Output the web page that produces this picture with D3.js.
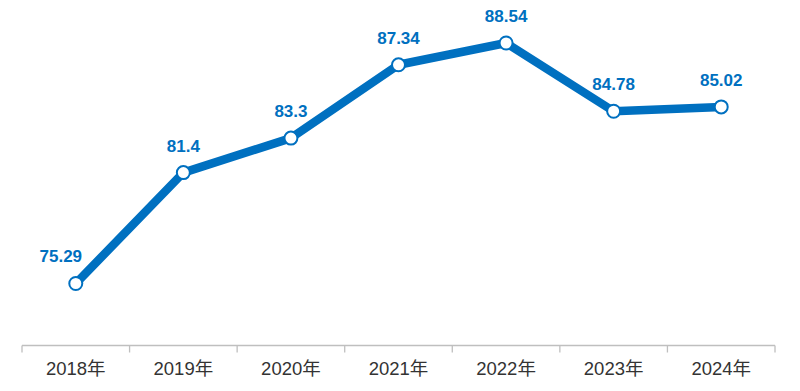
<!DOCTYPE html>
<html><head><meta charset="utf-8">
<script src="https://cdn.jsdelivr.net/npm/d3@7"></script>
<style>body{margin:0;background:#fff}svg{display:block}</style>
</head><body>
<svg id="c" width="800" height="391"></svg>
<script>
const categories = ["2018年","2019年","2020年","2021年","2022年","2023年","2024年"];
const values = [75.29, 81.4, 83.3, 87.34, 88.54, 84.78, 85.02];
const valueLabels = ["75.29","81.4","83.3","87.34","88.54","84.78","85.02"];

const svg = d3.select("#c");
const font = "'Liberation Sans', Arial, 'Noto Sans CJK SC', sans-serif";
const blue = "#0070C0";
const x = d3.scaleBand().domain(categories).range([22, 775]).paddingInner(0).paddingOuter(0);
const y = d3.scaleLinear().domain([72, 90]).range([343.2, 16.5]);

const axisY = 345.5;
const ax = svg.append("g").attr("transform", `translate(0,${axisY})`);
ax.append("line").attr("x1", 22).attr("x2", 775).attr("stroke", "#bfbfbf").attr("stroke-width", 1.3);
const bounds = categories.map(c => x(c)).concat([x(categories[categories.length-1]) + x.bandwidth()]);
ax.selectAll("line.t").data(bounds).join("line").attr("class","t")
  .attr("x1", d => d).attr("x2", d => d).attr("y1", 0).attr("y2", 7)
  .attr("stroke", "#bfbfbf").attr("stroke-width", 1.3);
ax.selectAll("text").data(categories).join("text")
  .attr("x", d => x(d) + x.bandwidth()/2).attr("y", 29.5)
  .attr("text-anchor", "middle").attr("font-family", font).attr("font-size", 18.5)
  .attr("fill", "#333").text(d => d);

const cx = (d, i) => x(categories[i]) + x.bandwidth()/2;
const line = d3.line().x(cx).y(d => y(d));
svg.append("path").datum(values).attr("d", line).attr("fill", "none")
  .attr("stroke", blue).attr("stroke-width", 8.5).attr("stroke-linejoin", "round");
svg.selectAll("circle").data(values).join("circle")
  .attr("cx", cx).attr("cy", d => y(d)).attr("r", 6.5)
  .attr("fill", "#fff").attr("stroke", blue).attr("stroke-width", 2);
svg.selectAll("text.v").data(values).join("text").attr("class","v")
  .attr("x", (d, i) => cx(d, i) + (i === 0 ? -15 : 0)).attr("y", d => y(d) - 21)
  .attr("text-anchor", "middle").attr("font-family", font).attr("font-size", 17)
  .attr("font-weight", "bold").attr("fill", blue).text((d, i) => valueLabels[i]);
</script>
</body></html>
